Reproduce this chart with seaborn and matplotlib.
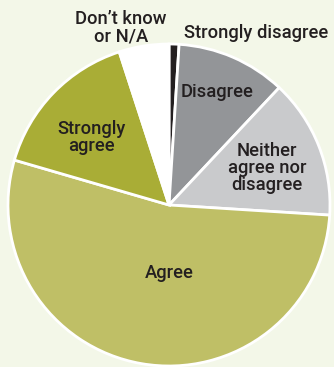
import matplotlib
matplotlib.use("Agg")
import matplotlib.pyplot as plt
import seaborn as sns

categories = ["Strongly disagree", "Disagree", "Neither agree nor disagree",
              "Agree", "Strongly agree", "Don\u2019t know or N/A"]
values = [1.0, 11.0, 14.0, 53.5, 15.5, 5.0]
slice_labels = ["Strongly disagree", "Disagree", "Neither\nagree nor\ndisagree",
                "Agree", "Strongly\nagree", "Don\u2019t know\nor N/A"]
colors = ["#231f20", "#939598", "#c9cacc", "#bfbf66", "#a9ad36", "#ffffff"]

sns.set_theme(style="white")
plt.rcParams['font.family'] = ['Roboto', 'DejaVu Sans']

bg = "#f3f7e8"
fig = plt.figure(figsize=(3.34, 3.67), dpi=100, facecolor=bg)
R = 161
cx, cy = 169, 367 - 205
ax = fig.add_axes([(cx - R) / 334, (cy - R) / 367, 2 * R / 334, 2 * R / 367])
ax.set_facecolor(bg)

wedges, _ = ax.pie(values, colors=colors, startangle=90, counterclock=False,
                   wedgeprops=dict(edgecolor="white", linewidth=2))
ax.set_xlim(-1.0, 1.0)
ax.set_ylim(-1.0, 1.0)
ax.set_aspect("equal")
ax.axis("off")

# label anchor points in pie units (centre 0,0, radius 1)
label_xy = [(0.54, 1.07), (0.30, 0.70), (0.61, 0.23),
            (0.0, -0.42), (-0.48, 0.42), (-0.30, 1.10)]
for (x, y), lab in zip(label_xy, slice_labels):
    ax.text(x, y, lab, ha="center", va="center", fontsize=13.2, fontweight="medium",
            color="#231f20", linespacing=0.95, clip_on=False)

fig.savefig("out.png", dpi=100, facecolor=bg)
